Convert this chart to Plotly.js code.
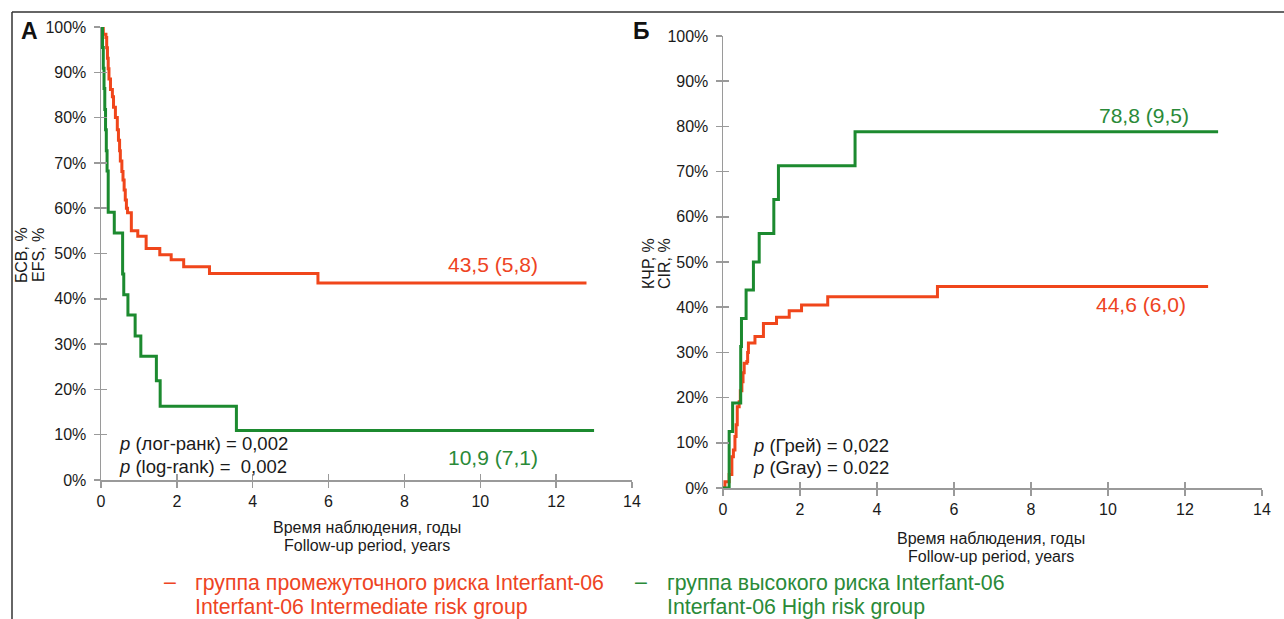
<!DOCTYPE html>
<html>
<head>
<meta charset="utf-8">
<script src="https://cdn.plot.ly/plotly-3.0.1.min.js"></script>
<style>html,body{margin:0;padding:0;background:#fff;}#chart{width:1284px;height:619px;}</style>
</head>
<body>
<div id="chart"></div>
<script>
// Panel A: event-free survival (%)
const efsInterTime = [0, 0.06, 0.13, 0.15, 0.17, 0.19, 0.21, 0.25, 0.30, 0.33, 0.38, 0.43, 0.46, 0.49, 0.51, 0.55, 0.58, 0.61, 0.64, 0.67, 0.70, 0.80, 0.97, 1.19, 1.55, 1.85, 2.18, 2.86, 5.72, 12.8];
const efsInterValue = [100, 98.4, 97.7, 95.4, 93.1, 90.8, 88.5, 86.2, 84.6, 82.3, 80.0, 77.3, 75.0, 72.7, 70.4, 68.1, 66.2, 64.0, 61.8, 60.0, 59.0, 55.0, 53.8, 51.1, 49.7, 48.6, 47.1, 45.6, 43.5, 43.5];
const efsHighTime = [0, 0.04, 0.06, 0.08, 0.10, 0.12, 0.14, 0.16, 0.19, 0.35, 0.57, 0.60, 0.71, 0.90, 1.05, 1.46, 1.56, 3.57, 13.0];
const efsHighValue = [100, 95.5, 90.9, 86.4, 81.8, 77.3, 72.7, 68.2, 59.1, 54.5, 45.5, 40.9, 36.4, 31.8, 27.3, 21.9, 16.3, 10.9, 10.9];

// Panel B: cumulative incidence of relapse (%)
const cirInterTime = [0, 0.05, 0.16, 0.23, 0.27, 0.31, 0.34, 0.37, 0.42, 0.45, 0.49, 0.52, 0.55, 0.62, 0.64, 0.66, 0.83, 1.05, 1.39, 1.72, 2.04, 2.72, 5.57, 12.6];
const cirInterValue = [0, 1.4, 3.0, 6.9, 8.4, 11.4, 14.0, 18.0, 19.1, 21.5, 23.5, 25.5, 27.6, 28.0, 30.0, 32.1, 33.5, 36.4, 37.8, 39.2, 40.5, 42.3, 44.6, 44.6];
const cirHighTime = [0, 0.16, 0.25, 0.46, 0.48, 0.60, 0.79, 0.94, 1.32, 1.44, 3.43, 12.86];
const cirHighValue = [0, 12.5, 18.8, 31.3, 37.5, 43.8, 50.0, 56.3, 63.8, 71.3, 78.8, 78.8];

// Text
const efsInterLabel = "43,5 (5,8)";
const efsHighLabel = "10,9 (7,1)";
const cirHighLabel = "78,8 (9,5)";
const cirInterLabel = "44,6 (6,0)";
const xTickVals = [0, 2, 4, 6, 8, 10, 12, 14];

const RED = '#F0461B', GREEN = '#1C8A2F';
const RED_T = '#EE4423', GREEN_T = '#2A8A38';
const FONT = 'Liberation Sans, Arial, sans-serif';

function line(x, y, color, xa, ya) {
  return {x: x, y: y, type: 'scatter', mode: 'lines', line: {shape: 'hv', color: color, width: 3}, xaxis: xa, yaxis: ya, hoverinfo: 'skip'};
}
const traces = [
  line(efsInterTime, efsInterValue, RED, 'x', 'y'),
  line(efsHighTime, efsHighValue, GREEN, 'x', 'y'),
  line(cirInterTime, cirInterValue, RED, 'x2', 'y2'),
  line(cirHighTime, cirHighValue, GREEN, 'x2', 'y2'),
  {x: [], y: [], type: 'scatter', xaxis: 'x3', yaxis: 'y3'},
  {x: [], y: [], type: 'scatter', xaxis: 'x4', yaxis: 'y4'}
];

const W = 1284, H = 619;
const px = v => v / W, py = v => (H - v) / H;

const axBase = {showgrid: false, zeroline: false, showline: true, linecolor: '#9a9a9a', linewidth: 1.5,
  ticks: 'outside', ticklen: 6, tickwidth: 1.5, tickcolor: '#9a9a9a', tickfont: {family: FONT, size: 16, color: '#1a1a1a'}, fixedrange: true};
const axOver = {showgrid: false, zeroline: false, showline: false, ticks: 'inside', ticklen: 6, tickwidth: 1.5, tickcolor: '#9a9a9a', showticklabels: false, fixedrange: true};

const layout = {
  width: W, height: H, margin: {l: 0, r: 0, t: 0, b: 0}, showlegend: false,
  paper_bgcolor: '#fff', plot_bgcolor: 'rgba(0,0,0,0)',
  xaxis: Object.assign({}, axBase, {domain: [px(101), px(632)], range: [0, 14], tickvals: xTickVals, anchor: 'y'}),
  yaxis: Object.assign({}, axBase, {domain: [py(480), py(27)], range: [0, 100], dtick: 10, ticksuffix: '%', anchor: 'x', ticklabelstandoff: 4}),
  xaxis2: Object.assign({}, axBase, {domain: [px(723), px(1262)], range: [0, 14], tickvals: xTickVals, anchor: 'y2'}),
  yaxis2: Object.assign({}, axBase, {domain: [py(488), py(36)], range: [0, 100], dtick: 10, ticksuffix: '%', anchor: 'x2', ticklabelstandoff: 4}),
  xaxis3: Object.assign({}, axOver, {overlaying: 'x', range: [0, 14], tickvals: xTickVals, anchor: 'y3'}),
  yaxis3: Object.assign({}, axOver, {overlaying: 'y', range: [0, 100], dtick: 10, anchor: 'x3'}),
  xaxis4: Object.assign({}, axOver, {overlaying: 'x2', range: [0, 14], tickvals: xTickVals, anchor: 'y4'}),
  yaxis4: Object.assign({}, axOver, {overlaying: 'y2', range: [0, 100], dtick: 10, anchor: 'x4'}),
  shapes: [
    {type: 'line', xref: 'paper', yref: 'paper', x0: px(12), x1: 1, y0: py(12), y1: py(12), line: {color: '#333', width: 1.5}},
    {type: 'line', xref: 'paper', yref: 'paper', x0: px(12), x1: px(12), y0: py(12), y1: 0, line: {color: '#333', width: 1.5}}
  ],
  annotations: []
};

function ann(text, x, y, opts) {
  layout.annotations.push(Object.assign({text: text, x: px(x), y: py(y), xref: 'paper', yref: 'paper', showarrow: false,
    font: {family: FONT, size: 18.5, color: '#1a1a1a'}, xanchor: 'center', yanchor: 'middle'}, opts || {}));
}
const titleFont = {family: FONT, size: 16, color: '#1a1a1a'};
// panel letters
ann('<b>А</b>', 29, 31, {font: {family: FONT, size: 23, color: '#111'}});
ann('<b>Б</b>', 641, 31, {font: {family: FONT, size: 23, color: '#111'}});
// y titles
ann('БСВ, %', 22, 255, {textangle: -90, font: titleFont});
ann('EFS, %', 39, 255, {textangle: -90, font: titleFont});
ann('КЧР, %', 648, 263, {textangle: -90, font: titleFont});
ann('CIR, %', 664, 263, {textangle: -90, font: titleFont});
// x titles
ann('Время наблюдения, годы', 367, 527, {font: titleFont});
ann('Follow-up period, years', 367, 545, {font: titleFont});
ann('Время наблюдения, годы', 991, 538, {font: titleFont});
ann('Follow-up period, years', 991, 556, {font: titleFont});
// p-values
ann('<i>p</i> (лог-ранк) = 0,002', 117, 443, {xanchor: 'left'});
ann('<i>p</i> (log-rank) =  0,002', 117, 466, {xanchor: 'left'});
ann('<i>p</i> (Грей) = 0,022', 751, 445, {xanchor: 'left'});
ann('<i>p</i> (Gray) = 0.022', 751, 467, {xanchor: 'left'});
// value labels
ann(efsInterLabel, 446, 264, {xanchor: 'left', font: {family: FONT, size: 21, color: RED_T}});
ann(efsHighLabel, 446, 457, {xanchor: 'left', font: {family: FONT, size: 21, color: GREEN_T}});
ann(cirHighLabel, 1097, 116, {xanchor: 'left', font: {family: FONT, size: 21, color: GREEN_T}});
ann(cirInterLabel, 1094, 304, {xanchor: 'left', font: {family: FONT, size: 21, color: RED_T}});
// legend
const legFontR = {family: FONT, size: 21.3, color: RED_T};
const legFontG = {family: FONT, size: 21.3, color: GREEN_T};
ann('–', 170, 582, {font: legFontR});
ann('группа промежуточного риска Interfant-06', 193, 583, {xanchor: 'left', font: legFontR});
ann('Interfant-06 Intermediate risk group', 193, 607, {xanchor: 'left', font: legFontR});
ann('–', 641, 582, {font: legFontG});
ann('группа высокого риска Interfant-06', 665, 583, {xanchor: 'left', font: legFontG});
ann('Interfant-06 High risk group', 665, 607, {xanchor: 'left', font: legFontG});

Plotly.newPlot('chart', traces, layout, {staticPlot: true, displayModeBar: false});
</script>
</body>
</html>
